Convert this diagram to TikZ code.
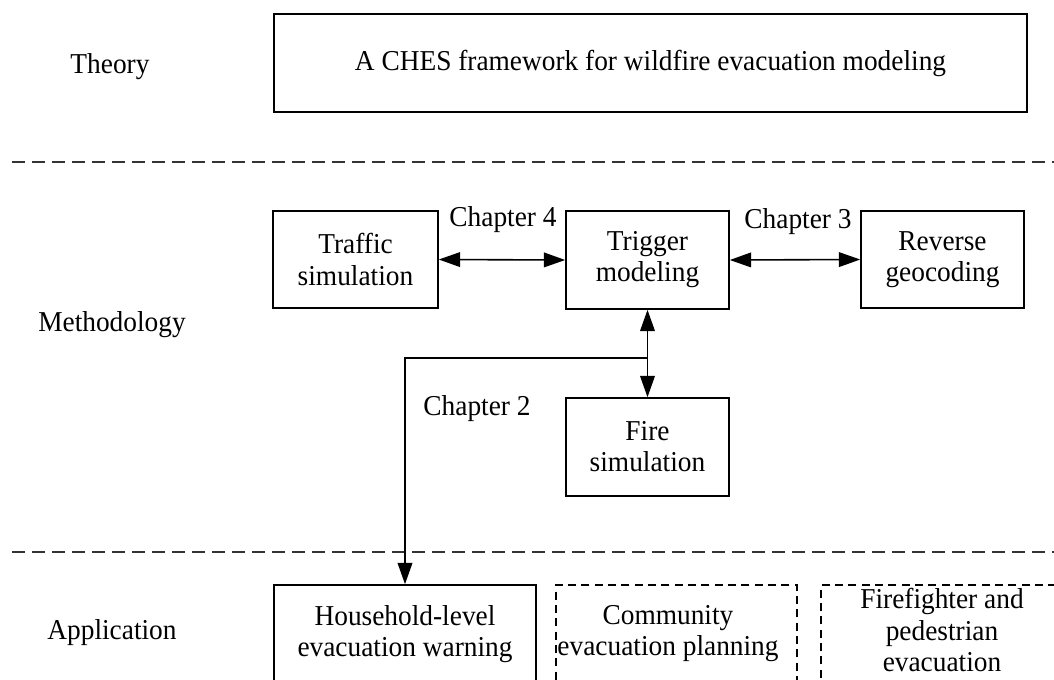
\documentclass[tikz,border=0pt]{standalone}
\usepackage{fontspec}
\setmainfont{Liberation Serif}[FakeStretch=0.95]
\usetikzlibrary{arrows.meta}
\begin{document}
\begin{tikzpicture}[x=0.75pt,y=-0.75pt,
  every node/.style={font=\fontsize{21.6}{23.3}\selectfont, align=center},
  box/.style={draw, line width=1.2pt, inner sep=0pt},
  dbox/.style={box, dash pattern=on 6pt off 4pt},
  divider/.style={line width=1.4pt, dash pattern=on 10pt off 5pt, draw=black!80},
  arr/.style={line width=1.2pt, -{Triangle[length=16pt,width=11pt]}},
  darr/.style={line width=1.2pt, {Triangle[length=16pt,width=11pt]}-{Triangle[length=16pt,width=11pt]}},
  side/.style={anchor=center},
  chap/.style={anchor=base}]
\useasboundingbox (0,0) rectangle (1054,679);
\clip (0,0) rectangle (1054,679);
% side labels
\node[side] (theory) at (110,67) {Theory};
\node[side] (method) at (112,325) {Methodology};
\node[side] (appl) at (112,633) {Application};
% dividers
\coordinate (d1a) at (12,162); \coordinate (d1b) at (1054,162);
\coordinate (d2a) at (12,552); \coordinate (d2b) at (1054,552);
\draw[divider] (d1a) -- (d1b);
\draw[divider] (d2a) -- (d2b);
% boxes
\node[box, minimum width=564.75pt, minimum height=73.5pt] (ches) at (650.5,63) {A CHES framework for wildfire evacuation modeling};
\node[box, minimum width=123.75pt, minimum height=72.75pt] (traffic) at (355.5,259.5) {Traffic\\simulation};
\node[box, minimum width=122.25pt, minimum height=73.5pt] (trigger) at (647.5,260) {Trigger\\modeling};
\node[box, minimum width=122.25pt, minimum height=72.75pt] (reverse) at (942.5,259.5) {Reverse\\geocoding};
\node[box, minimum width=122.25pt, minimum height=73.5pt] (fire) at (647.5,447) {Fire\\simulation};
\node[box, minimum width=196.5pt, minimum height=73.5pt] (house) at (405,634) {Household-level\\evacuation warning};
\node[dbox, minimum width=180.75pt, minimum height=73.5pt] (comm) at (676.5,634) {};
\node (commt) at (668,634) {Community\\evacuation planning};
\node[dbox, minimum width=181.5pt, minimum height=73.5pt] (fight) at (942,634) {};
\node (fightt) at (942,630) {Firefighter and\\pedestrian\\evacuation};
% connectors
\draw[darr] (traffic.east) -- (trigger.west);
\draw[darr] (trigger.east) -- (reverse.west);
\draw[darr] (trigger.south) -- (fire.north);
\coordinate (br) at (647.5,358);
\draw[arr] (br) -| (house.north);
% chapter labels
\node[chap] (ch4) at (503,226) {Chapter 4};
\node[chap] (ch3) at (798,228) {Chapter 3};
\node[chap] (ch2) at (477,415) {Chapter 2};
\end{tikzpicture}
\end{document}
